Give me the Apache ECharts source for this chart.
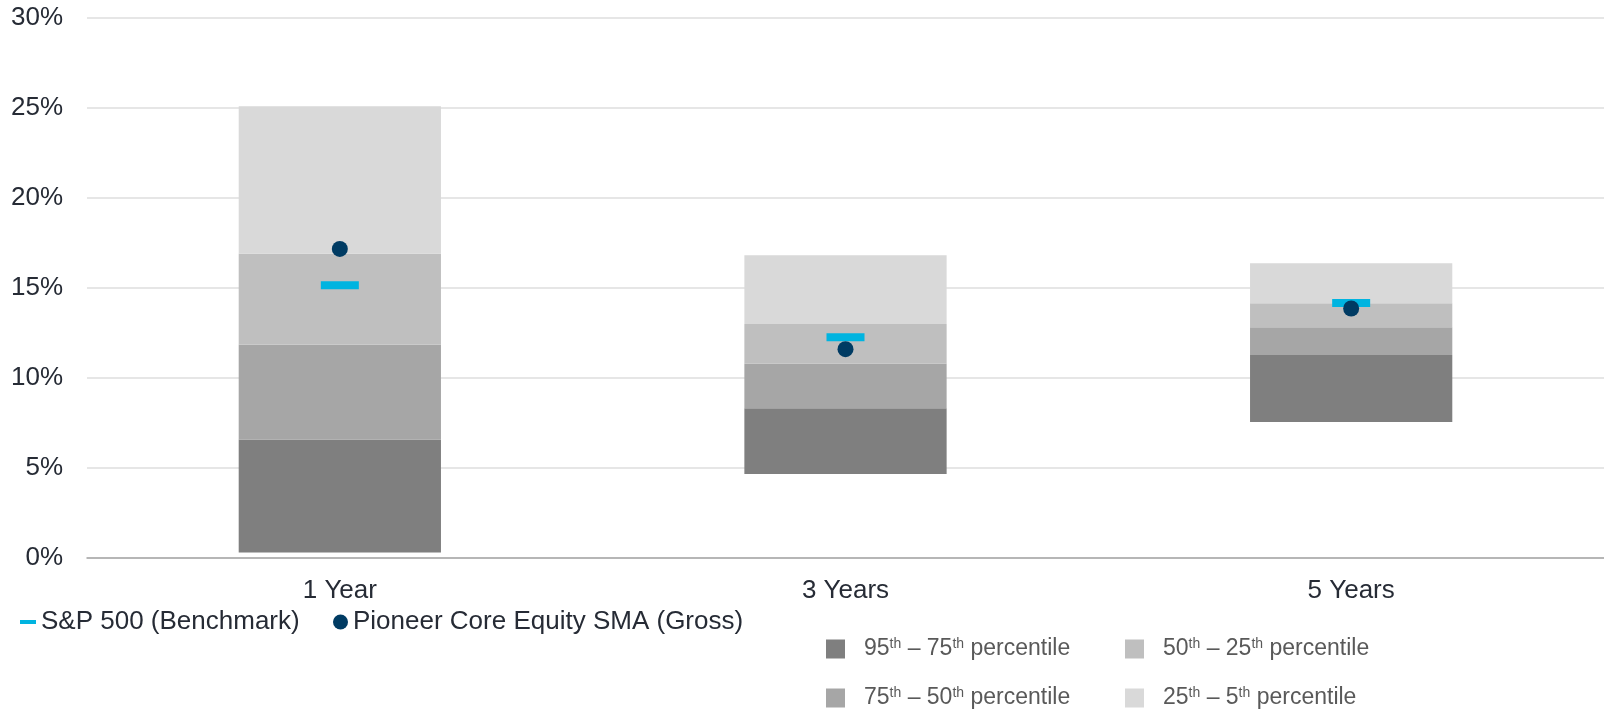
<!DOCTYPE html>
<html>
<head>
<meta charset="utf-8">
<script src="https://cdn.jsdelivr.net/npm/echarts@6/dist/echarts.min.js"></script>
<style>
  html, body { margin: 0; padding: 0; background: #fff; }
  #chart { width: 1604px; height: 711px; }
</style>
</head>
<body>
<div id="chart"></div>
<script>
// periods on the x axis
const periods = ['1 Year', '3 Years', '5 Years'];

// peer-universe percentile boundaries (annualised return, %)
const p95 = [0.3, 4.67, 7.56];
const p75 = [6.58, 8.32, 11.28];
const p50 = [11.85, 10.8, 12.82];
const p25 = [16.9, 13.0, 14.15];
const p5 = [25.1, 16.82, 16.37];

// markers
const benchmark = [15.15, 12.27, 14.16]; // S&P 500
const fund = [17.17, 11.6, 13.86];       // Pioneer Core Equity SMA (Gross)

const yTicks = [0, 5, 10, 15, 20, 25, 30];

const bandNames = [
  '95th – 75th percentile',
  '75th – 50th percentile',
  '50th – 25th percentile',
  '25th – 5th percentile'
];
const bandColors = ['#7f7f7f', '#a6a6a6', '#bfbfbf', '#d9d9d9'];
const bandLower = [p95, p75, p50, p25];
const bandUpper = [p75, p50, p25, p5];

const textDark = '#262b35';
const font = '"Liberation Sans", Arial, sans-serif';

// "95th – 75th percentile" -> rich text with superscripts
function supLabel(name) {
  return name.replace(/(\d+)th/g, '{n|$1}{s|th}').replace(/ – /, '{n| – }').replace(/ percentile/, '{n| percentile}');
}

const legendRich = {
  n: { fontSize: 23, lineHeight: 26, color: '#595959', fontFamily: font },
  s: { fontSize: 14, lineHeight: 14, color: '#595959', fontFamily: font, verticalAlign: 'top', padding: [1, 0, 0, 0] }
};

// one legend per band so the 2x2 layout is exact
function bandLegend(left, top, name) {
  return {
    left: left,
    top: top,
    padding: 0,
    itemWidth: 19,
    itemHeight: 19,
    icon: 'rect',
    selectedMode: false,
    data: [name],
    formatter: supLabel,
    textStyle: { fontSize: 23, color: '#595959', fontFamily: font, padding: [0, 0, 0, 14], rich: legendRich }
  };
}

const chart = echarts.init(document.getElementById('chart'));

const series = [{
  name: 'base',
  type: 'bar',
  stack: 'range',
  barWidth: '40%',
  itemStyle: { color: 'transparent' },
  data: p95,
  silent: true
}];

bandNames.forEach((name, i) => {
  series.push({
    name: name,
    type: 'bar',
    stack: 'range',
    barWidth: '40%',
    itemStyle: { color: bandColors[i] },
    data: bandUpper[i].map((v, j) => +(v - bandLower[i][j]).toFixed(2))
  });
});

series.push({
  name: 'S&P 500 (Benchmark)',
  type: 'scatter',
  symbol: 'rect',
  symbolSize: [38, 8],
  itemStyle: { color: '#00b4e0', opacity: 1 },
  data: benchmark,
  z: 5
});

series.push({
  name: 'Pioneer Core Equity SMA (Gross)',
  type: 'scatter',
  symbol: 'circle',
  symbolSize: 16,
  itemStyle: { color: '#003b63', opacity: 1 },
  data: fund,
  z: 6
});

chart.setOption({
  animation: false,
  backgroundColor: '#fff',
  grid: { left: 87, right: 0, top: 18, bottom: 153 },
  legend: [
    {
      left: 20,
      top: 609,
      padding: 0,
      itemWidth: 16,
      itemHeight: 4,
      icon: 'rect',
      selectedMode: false,
      data: ['S&P 500 (Benchmark)'],
      textStyle: { fontSize: 26, color: textDark, fontFamily: font }
    },
    {
      left: 333,
      top: 609,
      padding: 0,
      itemWidth: 15,
      itemHeight: 15,
      icon: 'circle',
      selectedMode: false,
      data: ['Pioneer Core Equity SMA (Gross)'],
      textStyle: { fontSize: 26, color: textDark, fontFamily: font }
    },
    bandLegend(826, 636, bandNames[0]),
    bandLegend(826, 685, bandNames[1]),
    bandLegend(1125, 636, bandNames[2]),
    bandLegend(1125, 685, bandNames[3])
  ],
  xAxis: {
    type: 'category',
    data: periods,
    axisTick: { show: false },
    axisLine: { lineStyle: { color: '#a6a6a6', width: 1.5 } },
    axisLabel: { fontSize: 26, color: textDark, fontFamily: font, margin: 20 }
  },
  yAxis: {
    type: 'value',
    min: yTicks[0],
    max: yTicks[yTicks.length - 1],
    interval: 5,
    axisLine: { show: false },
    axisTick: { show: false },
    splitLine: { lineStyle: { color: '#dedede', width: 1.5 } },
    axisLabel: { fontSize: 26, color: textDark, fontFamily: font, margin: 24, formatter: '{value}%' }
  },
  series: series
});
</script>
</body>
</html>
